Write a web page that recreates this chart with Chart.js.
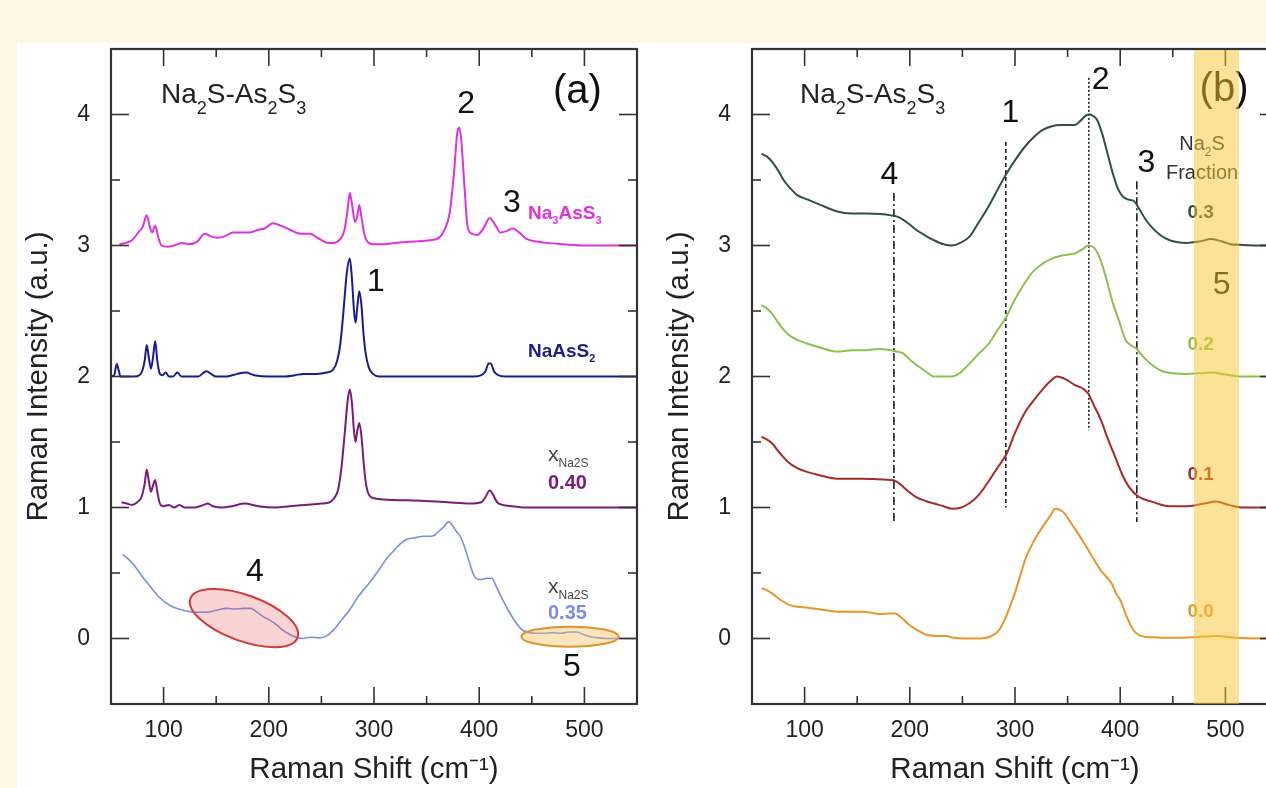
<!doctype html>
<html>
<head>
<title>Na2S-As2S3 Raman spectra</title>
<script src="https://cdn.jsdelivr.net/npm/chart.js@4.4.9/dist/chart.umd.min.js"></script>
<style>
  html, body { margin: 0; padding: 0; overflow: hidden; background: #fdf6e4; }
  #wrap { position: relative; width: 1266px; height: 788px; overflow: hidden; }
  #paper { position: absolute; left: 17px; top: 43px; right: 0; bottom: 0; background: #fff; }
  canvas { position: absolute; top: 0; }
</style>
<script>
const FAM = "'Liberation Sans', Arial, sans-serif";

// ---- panel (a): [Raman shift, offset intensity] ----
const na3AsS3 = [[58,3.01],[64,3.02],[70,3.04],[76,3.10],[80,3.14],[84,3.23],[87,3.14],[89,3.10],[92,3.15],[95,3.06],[98,3.00],
  [104,2.99],[110,3.00],[117,3.02],[124,3.01],[132,3.03],[139,3.09],[145,3.07],[151,3.06],[158,3.07],[166,3.10],[174,3.10],
  [182,3.10],[190,3.12],[196,3.13],[204,3.17],[212,3.15],[220,3.12],[230,3.09],[239,3.09],[248,3.05],[256,3.02],[262,3.02],
  [268,3.05],[272,3.12],[275,3.28],[277,3.40],[279,3.32],[282,3.18],[284,3.22],[286,3.31],[288,3.22],[291,3.08],[295,3.02],
  [300,3.01],[310,3.01],[320,3.02],[337,3.03],[353,3.04],[362,3.06],[367,3.12],[372,3.25],[376,3.55],[379,3.85],[381,3.90],
  [383,3.80],[386,3.45],[389,3.14],[393,3.09],[398,3.08],[404,3.13],[410,3.21],[415,3.16],[420,3.10],[426,3.11],[432,3.13],
  [438,3.10],[445,3.05],[455,3.03],[464,3.02],[480,3.01],[500,3.0],[520,3.0],[550,3.0]];
const naAsS2 = [[50,2.0],[53,2.01],[55.5,2.095],[57.5,2.04],[59,2.0],[65,2.0],[72,2.0],[77,2.01],[80,2.05],[82,2.12],[84,2.24],
  [86,2.14],[88,2.06],[90,2.15],[92,2.27],[94,2.12],[96.5,2.02],[99,2.01],[102,2.03],[105,2.0],[109,2.0],[113,2.03],[117,2.0],
  [125,2.0],[133,2.0],[138,2.03],[141,2.04],[145,2.02],[150,2.0],[160,2.0],[170,2.02],[178,2.03],[186,2.01],[200,2.0],[215,2.0],
  [225,2.01],[233,2.02],[245,2.02],[255,2.03],[261,2.05],[265,2.12],[268,2.25],[271,2.50],[274,2.78],[277,2.90],[279,2.75],
  [281,2.50],[282.5,2.41],[284,2.52],[286,2.65],[288,2.55],[290,2.33],[292,2.18],[295,2.07],[299,2.02],[305,2.0],[320,2.0],
  [340,2.0],[360,2.0],[380,2.0],[395,2.0],[402,2.01],[406,2.04],[409,2.10],[411,2.10],[414,2.04],[418,2.01],[425,2.0],
  [450,2.0],[500,2.0],[550,2.0]];
const glass040 = [[60,1.04],[65,1.03],[70,1.02],[75,1.04],[79,1.08],[82,1.18],[84,1.29],[86,1.20],[88,1.12],[90,1.17],[92,1.21],
  [94,1.12],[96.5,1.03],[100,1.01],[105,1.02],[110,1.0],[115,1.02],[120,1.0],[130,1.0],[138,1.02],[142,1.03],[147,1.01],
  [155,1.0],[165,1.01],[177,1.03],[190,1.01],[206,1.0],[220,1.01],[235,1.02],[250,1.03],[258,1.04],[262,1.07],[266,1.14],
  [269,1.30],[272,1.55],[275,1.82],[277,1.90],[279,1.80],[281,1.58],[282.5,1.50],[284,1.58],[286,1.645],[288,1.55],[290,1.36],
  [292,1.20],[295,1.10],[300,1.07],[312,1.06],[330,1.055],[350,1.05],[370,1.04],[391,1.03],[402,1.04],[406,1.08],[410,1.13],
  [413,1.10],[417,1.04],[422,1.02],[432,1.01],[445,1.0],[480,1.0],[520,1.0],[550,1.0]];
const glass035 = [[61,0.64],[66,0.61],[72,0.56],[80,0.47],[87,0.40],[94,0.33],[101,0.28],[109,0.24],[117,0.22],[125,0.205],
  [133,0.20],[141,0.20],[150,0.215],[160,0.23],[168,0.225],[176,0.23],[183,0.23],[189,0.20],[195,0.165],[201,0.14],[208,0.10],
  [214,0.06],[220,0.03],[226,0.01],[232,0.0],[240,0.01],[248,0.005],[255,0.02],[262,0.07],[270,0.15],[277,0.22],[285,0.32],
  [292,0.39],[299,0.46],[306,0.54],[313,0.62],[320,0.68],[326,0.73],[332,0.76],[340,0.77],[347,0.78],[353,0.78],[358,0.79],
  [361,0.815],[366,0.85],[371,0.89],[374,0.87],[378,0.82],[382,0.78],[386,0.70],[390,0.60],[394,0.50],[397,0.46],[401,0.45],
  [407,0.46],[412,0.46],[416,0.40],[422,0.30],[428,0.21],[435,0.12],[441,0.065],[448,0.045],[455,0.04],[461,0.04],[470,0.045],
  [478,0.04],[486,0.05],[493,0.05],[499,0.03],[505,0.015],[513,0.005],[522,0.0],[535,0.0],[550,0.0]];

// ---- panel (b): glasses by Na2S fraction ----
const frac03 = [[59,3.70],[64,3.68],[69,3.64],[75,3.57],[80,3.50],[86,3.44],[93,3.385],[103,3.35],[115,3.31],[131,3.26],
  [145,3.245],[160,3.245],[172,3.24],[182,3.23],[188,3.22],[193,3.20],[200,3.16],[206,3.12],[214,3.08],[223,3.04],[232,3.01],
  [240,3.0],[248,3.02],[257,3.07],[265,3.17],[275,3.30],[283,3.42],[292,3.55],[300,3.65],[309,3.75],[317,3.82],[326,3.88],
  [335,3.91],[343,3.92],[350,3.92],[357,3.92],[362,3.95],[367,3.99],[371,4.0],[374,3.99],[378,3.96],[383,3.85],[388,3.70],
  [393,3.55],[398,3.43],[403,3.37],[408,3.35],[413,3.34],[418,3.28],[424,3.20],[430,3.14],[438,3.08],[447,3.04],[455,3.025],
  [463,3.02],[475,3.03],[487,3.05],[497,3.03],[505,3.01],[515,3.005],[535,3.0],[550,3.0]];
const frac02 = [[59,2.545],[64,2.52],[69,2.48],[75,2.41],[82,2.34],[88,2.30],[93,2.28],[103,2.25],[115,2.22],[131,2.19],
  [145,2.20],[155,2.20],[170,2.21],[182,2.20],[188,2.19],[193,2.18],[200,2.13],[206,2.09],[215,2.04],[223,2.0],[232,2.0],
  [240,2.0],[248,2.03],[257,2.10],[265,2.17],[275,2.25],[283,2.35],[292,2.46],[300,2.59],[309,2.71],[317,2.80],[326,2.86],
  [335,2.90],[343,2.92],[350,2.93],[357,2.94],[364,2.97],[369.5,3.0],[374,2.99],[378,2.95],[383,2.85],[388,2.71],[393,2.56],
  [398.7,2.43],[405,2.28],[410,2.24],[415,2.215],[422,2.15],[430,2.09],[440,2.04],[450,2.025],[463,2.02],[475,2.025],
  [487,2.03],[500,2.015],[515,2.0],[535,2.0],[550,2.0]];
const frac01 = [[59,1.54],[64,1.52],[69,1.49],[76,1.42],[84,1.35],[93,1.30],[103,1.27],[115,1.245],[131,1.22],[155,1.22],
  [170,1.215],[182,1.21],[187,1.20],[192,1.17],[199,1.12],[206,1.08],[215,1.05],[223,1.03],[232,1.01],[240,0.99],[249,1.0],
  [258,1.04],[266,1.10],[275,1.20],[283,1.30],[292,1.41],[300,1.57],[309,1.72],[318,1.82],[326,1.90],[333,1.96],[340,2.0],
  [348,1.98],[357,1.935],[364,1.91],[369.5,1.87],[375,1.78],[381.5,1.67],[388,1.53],[395,1.39],[402,1.25],[409,1.15],
  [418,1.08],[430,1.045],[447,1.01],[464,1.01],[480,1.03],[491,1.045],[503,1.02],[515,1.0],[536,1.0],[550,1.0]];
const frac00 = [[59,0.383],[64,0.37],[69,0.345],[78,0.29],[86,0.255],[93,0.243],[103,0.235],[115,0.222],[131,0.205],
  [155,0.205],[165,0.195],[172,0.187],[180,0.19],[186,0.19],[192,0.16],[199.5,0.103],[208,0.06],[216.7,0.027],[225,0.02],
  [233.8,0.019],[242,0.005],[251,0.0],[262,0.0],[275,0.01],[285,0.065],[290,0.14],[295,0.24],[300,0.35],[305,0.48],
  [310,0.61],[317,0.73],[326,0.85],[333,0.93],[338.3,0.99],[343,0.98],[347,0.955],[355,0.86],[364,0.75],[373,0.63],
  [381.5,0.52],[388,0.46],[392,0.42],[396,0.345],[400.3,0.29],[406,0.17],[412.4,0.065],[418,0.025],[422.7,0.014],[435,0.008],
  [446.7,0.005],[470,0.01],[491,0.02],[510,0.005],[536,0.0],[550,0.0]];

// guide lines 4, 1, 2, 3 in panel (b)
const markX = [184.9, 291.3, 370.2, 415.8];
const markTop = [3.40, 3.79, 4.28, 3.49];
const markBottom = [0.89, 1.0, 1.59, 0.89];
const markDash = [[8, 3, 2, 3], [4, 3], [2, 2], [8, 3, 2, 3]];

// highlighted band (peak 5) in panel (b)
const bandFrom = 470.2, bandTo = 512.9;

const xy = arr => arr.map(([x, y]) => ({x, y}));

function drawRich(ctx, parts, x, y, o) {
  const w0 = o.bold ? 'bold ' : '';
  const mainFont = w0 + o.size + 'px ' + FAM;
  const subFont = w0 + (o.sub || o.size) + 'px ' + FAM;
  let w = 0;
  parts.forEach(([t, s]) => { ctx.font = s ? subFont : mainFont; w += ctx.measureText(t).width; });
  let cx = o.align === 'center' ? x - w / 2 : x;
  ctx.textAlign = 'left';
  ctx.textBaseline = o.mid ? 'middle' : 'alphabetic';
  ctx.fillStyle = o.color || '#111';
  parts.forEach(([t, s]) => {
    ctx.font = s ? subFont : mainFont;
    ctx.fillText(t, cx, s ? y + (o.drop || 0) : y);
    cx += ctx.measureText(t).width;
  });
}

const decor = {
  id: 'decor',
  afterDatasetsDraw(chart, args, opts) {
    const {ctx, scales: {x, y}} = chart;
    ctx.save();
    (opts.ellipses || []).forEach(e => {
      ctx.beginPath();
      ctx.ellipse(x.getPixelForValue(e.x), y.getPixelForValue(e.y), e.rx, e.ry, e.rot * Math.PI / 180, 0, 2 * Math.PI);
      ctx.fillStyle = e.fill; ctx.fill();
      ctx.lineWidth = 2; ctx.strokeStyle = e.stroke; ctx.stroke();
    });
    (opts.notes || []).forEach(n => {
      drawRich(ctx, n.parts, x.getPixelForValue(n.x), y.getPixelForValue(n.y), n);
    });
    ctx.restore();
  },
  afterDraw(chart, args, opts) {
    const {ctx, chartArea: a, scales: {x, y}} = chart;
    ctx.save();
    ctx.strokeStyle = '#333';
    ctx.lineWidth = 1.6;
    const seg = (x1, y1, x2, y2) => { ctx.beginPath(); ctx.moveTo(x1, y1); ctx.lineTo(x2, y2); ctx.stroke(); };
    x.ticks.forEach(t => {
      const p = x.getPixelForValue(t.value);
      if (p <= a.left + 1 || p >= a.right - 1) return;
      const len = t.value % 100 === 0 ? 17 : 8;
      seg(p, a.bottom, p, a.bottom - len);
      seg(p, a.top, p, a.top + len);
    });
    y.ticks.forEach(t => {
      const p = y.getPixelForValue(t.value);
      if (p <= a.top + 1 || p >= a.bottom - 1) return;
      const len = Number.isInteger(t.value) ? 18 : 9;
      seg(a.left, p, a.left + len, p);
      seg(a.right, p, a.right - len, p);
    });
    ctx.lineWidth = 2.2;
    ctx.strokeRect(a.left, a.top, a.right - a.left, a.bottom - a.top);
    if (opts.band) {
      const l = x.getPixelForValue(opts.band[0]), r = x.getPixelForValue(opts.band[1]);
      ctx.fillStyle = 'rgba(250,198,45,0.5)';
      ctx.fillRect(l, a.top + 1, r - l, a.bottom - a.top - 1);
    }
    ctx.restore();
  }
};

function panel(id, datasets, decorOpts) {
  return new Chart(document.getElementById(id), {
    type: 'line',
    data: { datasets },
    plugins: [decor],
    options: {
      responsive: false,
      animation: false,
      layout: { padding: { top: 49, right: 63, left: 0, bottom: 0 } },
      elements: { point: { radius: 0 }, line: { borderWidth: 2, cubicInterpolationMode: 'monotone' } },
      plugins: { legend: { display: false }, tooltip: { enabled: false }, decor: decorOpts },
      scales: {
        x: {
          type: 'linear', min: 50, max: 550,
          grid: { display: false, drawTicks: false }, border: { display: false },
          ticks: { stepSize: 50, autoSkip: false, maxRotation: 0, padding: 13, color: '#222',
                   font: { family: FAM, size: 23 },
                   callback: v => (v % 100 === 0 && v > 50 && v < 550) ? v : '' },
          title: { display: true, text: 'Raman Shift (cm\u207B\u00B9)', color: '#222',
                   font: { family: FAM, size: 29.5 }, padding: { top: 0, bottom: 0 } },
          afterFit: s => { s.height = 84; }
        },
        y: {
          type: 'linear', min: -0.5, max: 4.5,
          grid: { display: false, drawTicks: false }, border: { display: false },
          ticks: { stepSize: 0.5, autoSkip: false, padding: 21, color: '#222',
                   font: { family: FAM, size: 23 },
                   callback: v => Number.isInteger(v) ? v : '' },
          title: { display: true, text: 'Raman Intensity (a.u.)', color: '#222',
                   font: { family: FAM, size: 29.5 }, padding: { top: 21, bottom: 0 } },
          afterFit: s => { s.width = 111; }
        }
      }
    }
  });
}

const big = { size: 32, mid: true, align: 'center', color: '#111' };
const titleParts = [['Na', 0], ['2', 1], ['S-As', 0], ['2', 1], ['S', 0], ['3', 1]];
const titleStyle = { size: 28, sub: 18, drop: 11, color: '#222' };
const xna = [['x', 0], ['Na2S', 1]];
const xnaStyle = { size: 21, sub: 12, drop: 6, color: '#444' };

function go() {
  panel('chartA', [
    { data: xy(na3AsS3), borderColor: '#e030df' },
    { data: xy(naAsS2), borderColor: '#1c1c8c' },
    { data: xy(glass040), borderColor: '#7a1a7e' },
    { data: xy(glass035), borderColor: '#7d8de3', borderWidth: 1.6 }
  ], {
    ellipses: [
      { x: 176.4, y: 0.156, rx: 57, ry: 23, rot: 20, fill: 'rgba(235,80,80,0.25)', stroke: '#d23a3a' },
      { x: 486.3, y: 0.014, rx: 48.5, ry: 10, rot: 0, fill: 'rgba(248,190,90,0.4)', stroke: '#e0922e' }
    ],
    notes: [
      Object.assign({ x: 97.5, y: 4.088, parts: titleParts }, titleStyle),
      Object.assign({}, big, { x: 493.4, y: 4.17, parts: [['(a)', 0]], size: 40 }),
      Object.assign({}, big, { x: 387.5, y: 4.08, parts: [['2', 0]] }),
      Object.assign({}, big, { x: 431, y: 3.32, parts: [['3', 0]] }),
      Object.assign({}, big, { x: 301.9, y: 2.72, parts: [['1', 0]] }),
      Object.assign({}, big, { x: 186.9, y: 0.51, parts: [['4', 0]] }),
      Object.assign({}, big, { x: 488, y: -0.22, parts: [['5', 0]] }),
      { x: 446.4, y: 3.20, parts: [['Na', 0], ['3', 1], ['AsS', 0], ['3', 1]], size: 19, sub: 11, drop: 5, bold: true, color: '#e030df' },
      { x: 446.4, y: 2.15, parts: [['NaAsS', 0], ['2', 1]], size: 19, sub: 11, drop: 5, bold: true, color: '#1c1c8c' },
      Object.assign({ x: 465.4, y: 1.352, parts: xna }, xnaStyle),
      { x: 465.4, y: 1.142, parts: [['0.40', 0]], size: 20, bold: true, color: '#7a1a7e' },
      Object.assign({ x: 465.4, y: 0.351, parts: xna }, xnaStyle),
      { x: 465.4, y: 0.149, parts: [['0.35', 0]], size: 20, bold: true, color: '#7d8de3' }
    ]
  });

  const guides = markX.map((mx, i) => ({
    data: [{ x: mx, y: markTop[i] }, { x: mx, y: markBottom[i] }],
    borderColor: '#111', borderWidth: 1.5, borderDash: markDash[i], cubicInterpolationMode: 'default'
  }));

  panel('chartB', [
    { data: xy(frac03), borderColor: '#33503a' },
    { data: xy(frac02), borderColor: '#8dc14f' },
    { data: xy(frac01), borderColor: '#a52a2a' },
    { data: xy(frac00), borderColor: '#e8952d' }
  ].concat(guides), {
    band: [bandFrom, bandTo],
    notes: [
      Object.assign({ x: 95.6, y: 4.088, parts: titleParts }, titleStyle),
      Object.assign({}, big, { x: 498.7, y: 4.19, parts: [['(b)', 0]], size: 40 }),
      Object.assign({}, big, { x: 295.7, y: 4.01, parts: [['1', 0]] }),
      Object.assign({}, big, { x: 381.5, y: 4.26, parts: [['2', 0]] }),
      Object.assign({}, big, { x: 425, y: 3.63, parts: [['3', 0]] }),
      Object.assign({}, big, { x: 180.7, y: 3.54, parts: [['4', 0]] }),
      Object.assign({}, big, { x: 496.5, y: 2.70, parts: [['5', 0]] }),
      { x: 477.8, y: 3.73, parts: [['Na', 0], ['2', 1], ['S', 0]], size: 20, sub: 12, drop: 6, align: 'center', color: '#333' },
      { x: 477.8, y: 3.55, parts: [['Fraction', 0]], size: 20, mid: true, align: 'center', color: '#333' },
      { x: 476.5, y: 3.25, parts: [['0.3', 0]], size: 19, bold: true, mid: true, align: 'center', color: '#33503a' },
      { x: 476.5, y: 2.24, parts: [['0.2', 0]], size: 19, bold: true, mid: true, align: 'center', color: '#8dc14f' },
      { x: 476.5, y: 1.25, parts: [['0.1', 0]], size: 19, bold: true, mid: true, align: 'center', color: '#a52a2a' },
      { x: 476.5, y: 0.205, parts: [['0.0', 0]], size: 19, bold: true, mid: true, align: 'center', color: '#e8952d' }
    ]
  });
}

window.onload = go;
</script>
</head>
<body>
<div id="wrap">
  <div id="paper"></div>
  <canvas id="chartA" width="700" height="788" style="left:0"></canvas>
  <canvas id="chartB" width="700" height="788" style="left:641px"></canvas>
</div>
</body>
</html>
